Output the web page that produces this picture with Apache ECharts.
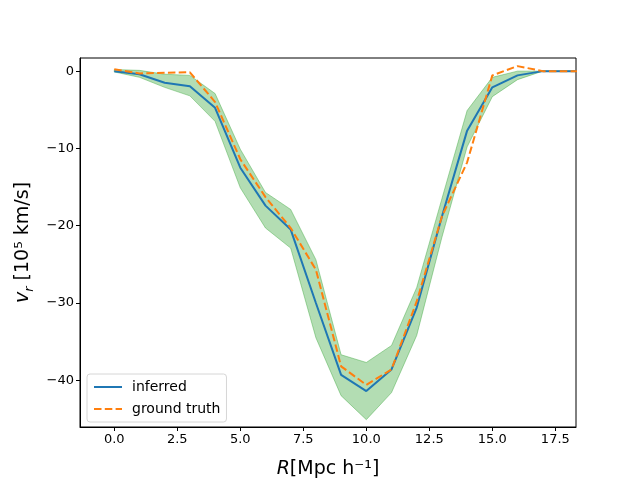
<!DOCTYPE html>
<html>
<head>
<meta charset="utf-8">
<script src="https://cdn.jsdelivr.net/npm/echarts@6/dist/echarts.min.js"></script>
<style>
  html, body { margin: 0; padding: 0; background: #fff; }
  #chart { width: 640px; height: 480px; }
</style>
</head>
<body>
<div id="chart"></div>
<script>
// radius in Mpc/h
var radius = [0, 1, 2, 3, 4, 5, 6, 7, 8, 9, 10, 11, 12, 13, 14, 15, 16, 17, 18, 19];
// inferred v_r (1e5 km/s)
var inferred = [0, -0.4, -1.5, -1.95, -4.75, -12.5, -17.4, -20.5, -30, -39.3, -41.4, -38.6, -30.6, -18.8, -7.7, -2.1, -0.55, 0, 0, 0];
// ground truth v_r
var groundTruth = [0.25, -0.3, -0.2, -0.15, -4, -11.4, -16.3, -20.3, -25.7, -38.2, -40.6, -38.6, -29.8, -18.8, -11.8, -0.55, 0.65, 0, 0, 0];
// uncertainty band
var bandUpper = [0.2, 0.1, -0.4, -0.55, -2.9, -10.1, -15.7, -17.9, -24.4, -36.7, -37.7, -35.5, -28, -16.5, -5.1, -0.8, 0, 0, 0, 0];
var bandLower = [-0.1, -0.8, -2.1, -3.2, -6.5, -15.1, -20.3, -22.9, -34.5, -42, -45.1, -41.6, -34.2, -21.5, -9.8, -3.3, -1.1, 0, 0, 0];
var xTicks = [0, 2.5, 5, 7.5, 10, 12.5, 15, 17.5];
var yTicks = [0, -10, -20, -30, -40];

function pairs(xs, ys) {
    var out = [];
    for (var i = 0; i < xs.length; i++) {
        out.push([xs[i], ys[i]]);
    }
    return out;
}

function minusFmt(v) {
    return v < 0 ? '\u2212' + (-v) : String(v);
}

// whole band as one polygon, upper edge forward then lower edge back
function renderBand(params, api) {
    var pts = [];
    for (var i = 0; i < radius.length; i++) {
        pts.push(api.coord([radius[i], bandUpper[i]]));
    }
    for (var j = radius.length - 1; j >= 0; j--) {
        pts.push(api.coord([radius[j], bandLower[j]]));
    }
    return {
        type: 'polygon',
        shape: { points: pts },
        style: {
            fill: 'rgba(44,160,44,0.36)',
            stroke: 'rgba(44,160,44,0.4)',
            lineWidth: 1
        }
    };
}

var font = 'DejaVu Sans';

var chart = echarts.init(document.getElementById('chart'));
var option = {
    animation: false,
    backgroundColor: '#fff',
    grid: {
        left: 80,
        right: 64,
        top: 58,
        bottom: 53,
        outerBoundsMode: 'none',
        containLabel: false,
        show: true,
        borderColor: '#000',
        borderWidth: 1
    },
    legend: {
        data: ['inferred', 'ground truth'],
        orient: 'vertical',
        left: 87,
        top: 374,
        itemWidth: 28,
        itemHeight: 10,
        itemGap: 8,
        padding: [6, 6, 6, 6],
        backgroundColor: 'rgba(255,255,255,0.8)',
        borderColor: '#d6d6d6',
        borderWidth: 1,
        borderRadius: 3,
        itemStyle: { opacity: 0 },
        textStyle: { fontFamily: font, fontSize: 14, color: '#000', padding: [0, 0, 0, 5] }
    },
    xAxis: {
        type: 'value',
        min: -1.36,
        max: 18.32,
        name: '{i|R}[Mpc h\u207B\u00B9]',
        nameLocation: 'middle',
        nameGap: 33,
        nameTextStyle: {
            fontFamily: font, fontSize: 19, color: '#000',
            rich: { i: { fontFamily: font, fontSize: 19, fontStyle: 'italic', color: '#000' } }
        },
        axisLine: { onZero: false, lineStyle: { color: '#000', width: 1 } },
        axisTick: { customValues: xTicks, length: 4, lineStyle: { color: '#000' } },
        axisLabel: {
            customValues: xTicks,
            fontFamily: font, fontSize: 13, color: '#000', margin: 6,
            formatter: function (v) { return v.toFixed(1); }
        },
        splitLine: { show: false }
    },
    yAxis: {
        type: 'value',
        min: -46.05,
        max: 1.7,
        name: '{i|v}{s|r} [10\u2075 km/s]',
        nameLocation: 'middle',
        nameRotate: 90,
        nameGap: 44,
        nameTextStyle: {
            fontFamily: font, fontSize: 19, color: '#000', lineHeight: 26,
            rich: {
                i: { fontFamily: font, fontSize: 19, fontStyle: 'italic', color: '#000', lineHeight: 26 },
                s: { fontFamily: font, fontSize: 13, fontStyle: 'italic', color: '#000', lineHeight: 13, verticalAlign: 'bottom' }
            }
        },
        axisLine: { onZero: false, lineStyle: { color: '#000', width: 1 } },
        axisTick: { customValues: yTicks, length: 4, lineStyle: { color: '#000' } },
        axisLabel: {
            customValues: yTicks,
            fontFamily: font, fontSize: 13, color: '#000', margin: 6,
            formatter: minusFmt
        },
        splitLine: { show: false }
    },
    series: [
        {
            name: 'band',
            type: 'custom',
            renderItem: renderBand,
            data: [[0, 0]],
            clip: true,
            silent: true,
            z: 1
        },
        {
            name: 'inferred',
            type: 'line',
            symbol: 'none',
            data: pairs(radius, inferred),
            lineStyle: { color: '#1f77b4', width: 2 },
            itemStyle: { color: '#1f77b4' },
            z: 3
        },
        {
            name: 'ground truth',
            type: 'line',
            symbol: 'none',
            data: pairs(radius, groundTruth),
            lineStyle: { color: '#ff7f0e', width: 2, type: [7.5, 3.3] },
            itemStyle: { color: '#ff7f0e' },
            z: 4
        }
    ]
};
chart.setOption(option);
</script>
</body>
</html>
